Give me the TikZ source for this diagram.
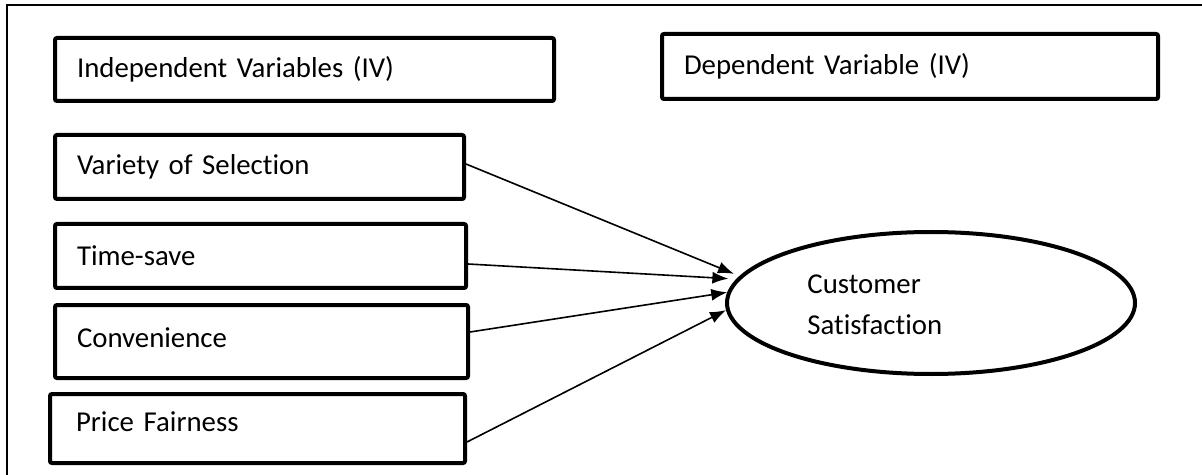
\documentclass[tikz,border=0pt]{standalone}
\usepackage{fontspec}
\setmainfont{Carlito}[Ligatures=NoCommon]
\usetikzlibrary{arrows.meta,shapes.geometric}
\begin{document}
\begin{tikzpicture}[x=0.5pt,y=-0.5pt,
  varbox/.style={draw, line width=2pt, rounded corners=1pt, rectangle,
    inner xsep=11pt, inner ysep=0pt, align=left,
    font=\fontsize{14.4}{17}\selectfont},
  outcome/.style={draw, line width=2pt, ellipse, inner sep=0pt,
    minimum width=204pt, minimum height=71pt},
  link/.style={line width=0.8pt, -{Latex[length=8pt,width=6pt]}},
  frameline/.style={line width=1.2pt}
]
\useasboundingbox (0,0) rectangle (1202,475);

% outer frame (top and left edges)
\coordinate (fbl) at (7,475);
\coordinate (ftl) at (7,5);
\coordinate (ftr) at (1202,5);
\draw[frameline] (fbl) -- (ftl) -- (ftr);

% headings
\node[varbox, minimum width=249.5pt, minimum height=31.5pt, text width=227.5pt]
  (iv) at (304.5,69.5) {Independent Variables (IV)};
\node[varbox, minimum width=248pt, minimum height=32.5pt, text width=226pt]
  (dv) at (910,66.5) {Dependent Variable (IV)};

% independent variables
\node[varbox, minimum width=204.5pt, minimum height=32pt, text width=182.5pt]
  (var) at (259.5,167) {Variety of Selection};
\node[varbox, minimum width=205.5pt, minimum height=32pt, text width=183.5pt]
  (time) at (260.5,256) {Time-save};
\node[varbox, minimum width=206.5pt, minimum height=36.5pt, text width=184.5pt]
  (conv) at (261.5,341.5) {\raisebox{4pt}{Convenience}};
\node[varbox, minimum width=207.5pt, minimum height=34.5pt, text width=181.5pt,
  inner xsep=13pt]
  (price) at (257.5,428.5) {\raisebox{7pt}{Price Fairness}};

% dependent variable
\node[outcome] (cs) at (931,303) {};
\node[anchor=west, inner sep=0pt, align=left,
  font=\fontsize{14.4}{20.5}\selectfont] (cstext) at (807,304.5)
  {Customer\\Satisfaction};

% relationships
\draw[link, shorten >=3pt] ([yshift=1.5pt]var.east) -- (cs.172);
\draw[link, shorten >=4pt] ([yshift=-4pt]time.east) -- (cs.173);
\draw[link] ([yshift=4.75pt]conv.east) -- (cs.177.2);
\draw[link] ([yshift=-6.75pt]price.east) -- (cs.182);
\end{tikzpicture}
\end{document}
